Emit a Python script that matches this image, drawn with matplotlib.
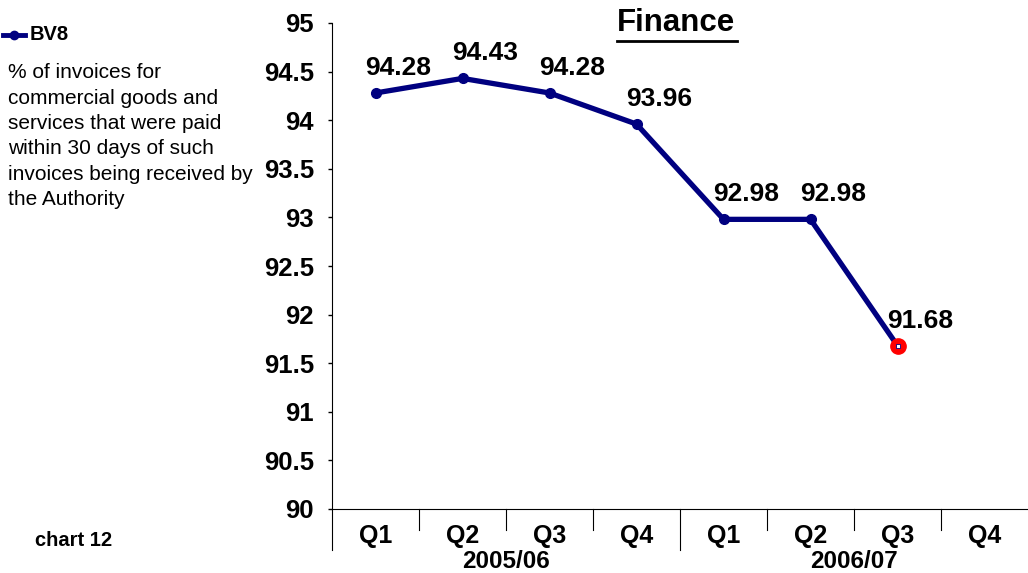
import matplotlib
matplotlib.use("Agg")
import matplotlib.pyplot as plt
from matplotlib.lines import Line2D

plt.rcParams['font.family'] = ['Liberation Sans', 'DejaVu Sans']

quarters = ["Q1", "Q2", "Q3", "Q4", "Q1", "Q2", "Q3", "Q4"]
years = ["2005/06", "2006/07"]
values = [94.28, 94.43, 94.28, 93.96, 92.98, 92.98, 91.68]
labels = ["94.28", "94.43", "94.28", "93.96", "92.98", "92.98", "91.68"]
yticks = [90, 90.5, 91, 91.5, 92, 92.5, 93, 93.5, 94, 94.5, 95]
ytick_labels = ["90", "90.5", "91", "91.5", "92", "92.5", "93", "93.5", "94", "94.5", "95"]

navy = "#000080"
fig = plt.figure(figsize=(10.28, 5.73), dpi=100)
ax_h = 509 - 23
ax = fig.add_axes([332/1028, 64/573, 1 - 332/1028, ax_h/573])

xs = list(range(len(values)))
ax.plot(xs, values, color=navy, lw=3.8, marker='o', ms=7, zorder=3, solid_joinstyle='round')
ax.plot(xs[-1], values[-1], marker='o', ms=11, mfc='red', mec='red', mew=1, zorder=4, ls='none')
ax.plot(xs[-1], values[-1], marker='s', ms=3, mfc='white', mec=navy, mew=0.6, zorder=5, ls='none')

for x, v, t in zip(xs, values, labels):
    ax.annotate(t, (x, v), xytext=(16, 18), textcoords='offset points',
                ha='center', va='center', fontsize=19, fontweight='bold')

ax.set_xlim(-0.5, 7.5)
ax.set_ylim(90, 95)
ax.set_yticks(yticks)
ax.set_yticklabels(ytick_labels, fontsize=18.5, fontweight='bold')
ax.tick_params(axis='y', direction='out', length=3, width=1, pad=10)
ax.set_xticks([])
for s in ['top', 'right']:
    ax.spines[s].set_visible(False)
ax.spines['left'].set_linewidth(0.8)
ax.spines['bottom'].set_linewidth(0.8)
ax.spines['left'].set_bounds(90, 95)

# category ticks and labels
trans = ax.get_xaxis_transform()
for i in range(len(quarters)):
    ax.text(i, -27/ax_h, quarters[i], transform=trans, ha='center', va='center',
            fontsize=18, fontweight='bold', clip_on=False)
for b in range(1, 8):
    ln = 41/ax_h if b == 4 else 21/ax_h
    ax.add_line(Line2D([b - 0.5, b - 0.5], [0, -ln], transform=trans, color='black',
                       lw=0.8, clip_on=False))
ax.add_line(Line2D([-0.5, -0.5], [0, -41/ax_h], transform=trans, color='black', lw=0.8, clip_on=False))
for j, y in enumerate(years):
    ax.text(1.5 + 4 * j, -53/ax_h, y, transform=trans, ha='center', va='center',
            fontsize=17.5, fontweight='bold', clip_on=False)

# title
fig.text(676/1028, 1 - 23/573, "Finance", ha='center', va='center', fontsize=22.5,
         fontweight='bold')
fig.add_artist(Line2D([617/1028, 737/1028], [1 - 41/573, 1 - 41/573], color='black', lw=2))

# legend-like text
fig.add_artist(Line2D([3/1028, 25/1028], [1 - 35/573, 1 - 35/573], color=navy, lw=3.5))
fig.add_artist(Line2D([14/1028], [1 - 35/573], color=navy, marker='o', ms=6, ls='none'))
fig.text(30/1028, 1 - 35/573, "BV8", ha='left', va='center', fontsize=14.5, fontweight='bold')
desc = ["% of invoices for", "commercial goods and", "services that were paid",
        "within 30 days of such", "invoices being received by", "the Authority"]
for k, line in enumerate(desc):
    fig.text(8/1028, 1 - (73 + 25.3 * k)/573, line, ha='left', va='center', fontsize=15)

fig.text(35/1028, 1 - 541/573, "chart 12", ha='left', va='center', fontsize=14.5, fontweight='bold')

fig.savefig("out.png", dpi=100)
